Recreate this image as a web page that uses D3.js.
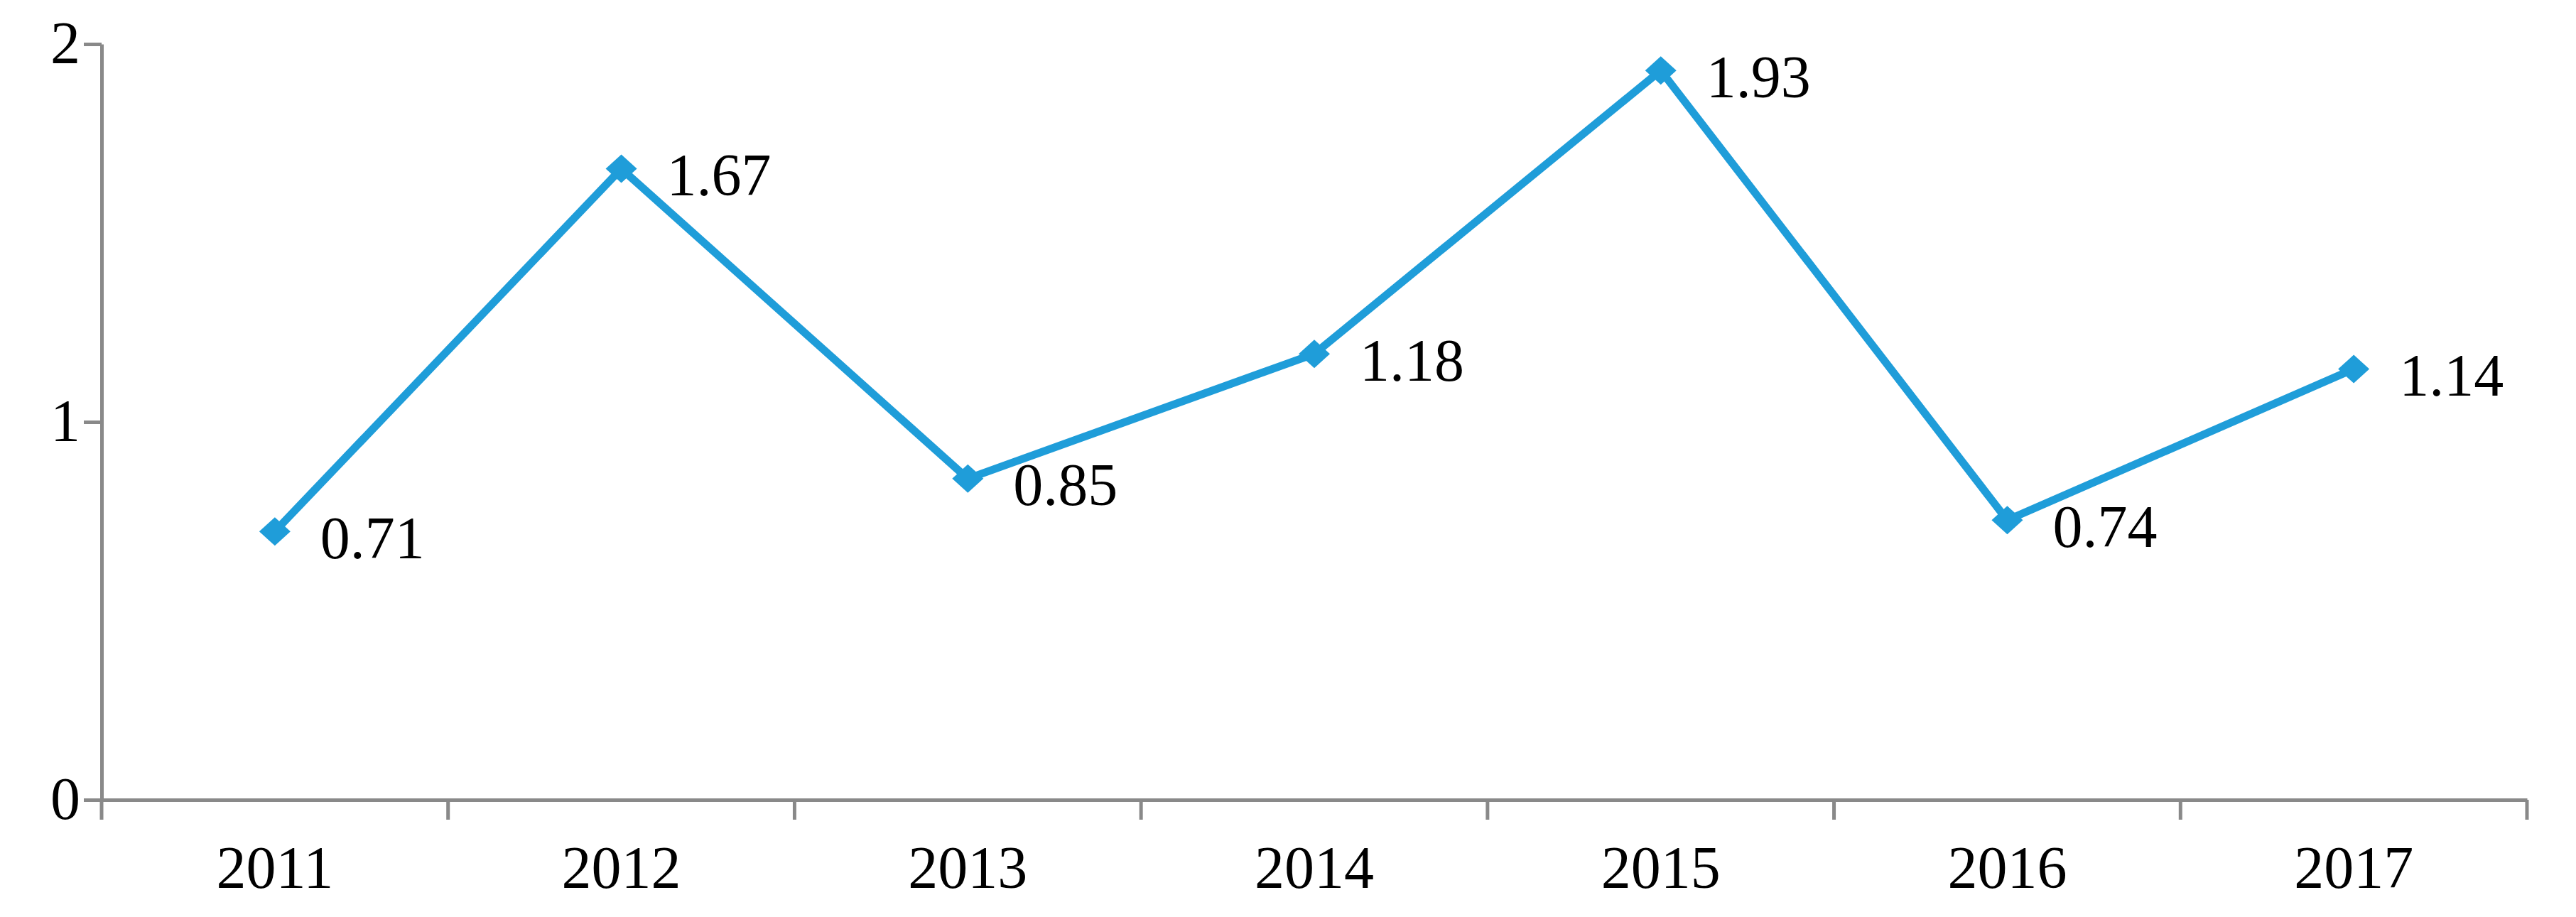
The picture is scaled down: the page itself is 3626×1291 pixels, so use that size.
<!DOCTYPE html>
<html>
<head>
<meta charset="utf-8">
<script src="https://cdn.jsdelivr.net/npm/d3@7"></script>
<style>
  body { margin: 0; background: #fff; }
  text { font-family: "Liberation Serif", "Times New Roman", serif; }
</style>
</head>
<body>
<div id="chart"></div>
<script>
// Data
const years = ["2011", "2012", "2013", "2014", "2015", "2016", "2017"];
const values = [0.71, 1.67, 0.85, 1.18, 1.93, 0.74, 1.14];
const yTicks = [0, 1, 2];

const width = 3626;
const height = 1291;
const margin = { top: 62, right: 69, bottom: 165, left: 143 };

const axisColour = "#898989";
const lineColour = "#1f9dd9";
const fontSize = 84;

const svg = d3.select("#chart").append("svg")
  .attr("width", width)
  .attr("height", height);

const x = d3.scaleBand()
  .domain(years)
  .range([margin.left, width - margin.right]);

const y = d3.scaleLinear()
  .domain([0, 2])
  .range([height - margin.bottom, margin.top]);

// Y axis
const yAxis = svg.append("g")
  .attr("transform", `translate(${margin.left},0)`)
  .call(d3.axisLeft(y).tickValues(yTicks).tickFormat(d3.format("d")).tickSize(25).tickSizeOuter(0));
yAxis.select(".domain").attr("stroke", axisColour).attr("stroke-width", 5);
yAxis.selectAll(".tick line").attr("stroke", axisColour).attr("stroke-width", 5);
yAxis.selectAll(".tick text").attr("font-size", fontSize).attr("fill", "#000").attr("x", -30)
  .attr("font-family", "Liberation Serif");

// X axis with boundary ticks
const xAxis = svg.append("g")
  .attr("transform", `translate(0,${y(0)})`)
  .call(d3.axisBottom(x).tickSize(0).tickSizeOuter(0));
xAxis.select(".domain").attr("stroke", axisColour).attr("stroke-width", 5);
xAxis.selectAll(".tick text").attr("font-size", fontSize).attr("fill", "#000").attr("y", 64)
  .attr("font-family", "Liberation Serif");
const bounds = years.map((d) => x(d)).concat([x(years[years.length - 1]) + x.bandwidth()]);
xAxis.selectAll("line.bound").data(bounds).enter().append("line")
  .attr("class", "bound")
  .attr("x1", (d) => d).attr("x2", (d) => d)
  .attr("y1", 0).attr("y2", 28)
  .attr("stroke", axisColour).attr("stroke-width", 5);

// Line
const cx = (i) => x(years[i]) + x.bandwidth() / 2;
const line = d3.line().x((d, i) => cx(i)).y((d) => y(d));
svg.append("path")
  .datum(values)
  .attr("d", line)
  .attr("fill", "none")
  .attr("stroke", lineColour)
  .attr("stroke-width", 11)
  .attr("stroke-linejoin", "round");

// Diamond markers
svg.selectAll("path.marker").data(values).enter().append("path")
  .attr("class", "marker")
  .attr("d", "M0,-20L22,0L0,20L-22,0Z")
  .attr("transform", (d, i) => `translate(${cx(i)},${y(d)})`)
  .attr("fill", lineColour);

// Value labels
svg.selectAll("text.label").data(values).enter().append("text")
  .attr("class", "label")
  .attr("x", (d, i) => cx(i) + 64)
  .attr("y", (d) => y(d) + 8)
  .attr("dy", "0.35em")
  .attr("font-size", fontSize)
  .attr("fill", "#000")
  .text((d) => d.toFixed(2));
</script>
</body>
</html>
